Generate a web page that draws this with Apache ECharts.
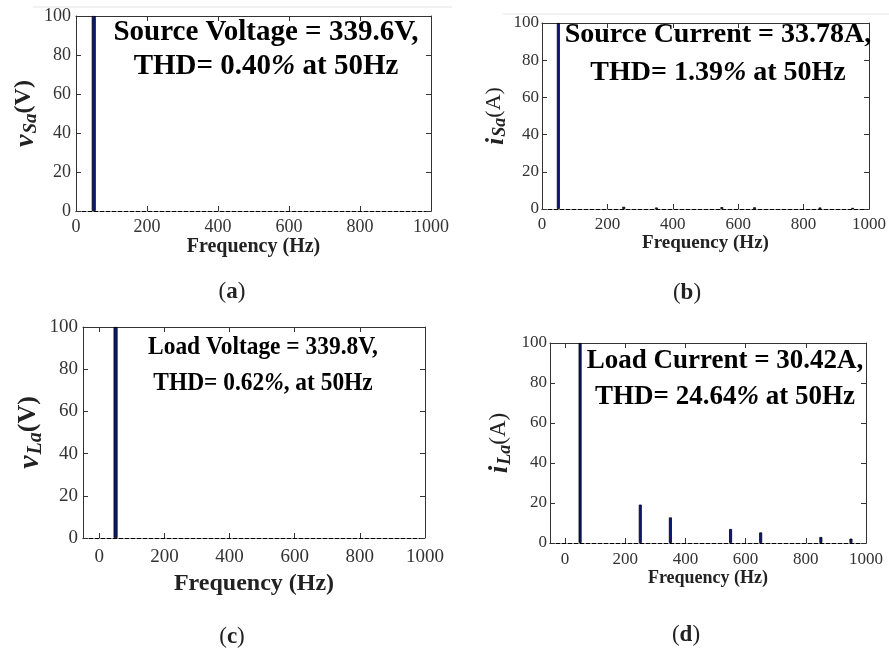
<!DOCTYPE html>
<html>
<head>
<meta charset="utf-8">
<script src="https://cdn.jsdelivr.net/npm/echarts@6/dist/echarts.min.js"></script>
<style>
  html, body { margin: 0; padding: 0; background: #fff; }
  #chart { width: 889px; height: 654px; }
</style>
</head>
<body>
<div id="chart"></div>
<script>
// 谐波频谱数据(幅值以基波为 100 归一)
var freqTicks = [0, 200, 400, 600, 800, 1000];

var srcVoltFreq = [50];
var srcVoltMag = [100];

var srcCurFreq = [50, 250, 350, 550, 650, 850, 950];
var srcCurMag = [100, 1.2, 0.8, 1.0, 0.9, 0.8, 0.6];

var loadVoltFreq = [50];
var loadVoltMag = [100];

var loadCurFreq = [50, 250, 350, 550, 650, 850, 950];
var loadCurMag = [100, 19.2, 12.8, 7.0, 5.3, 3.0, 2.2];

var titleLines = [
  ['Source Voltage = 339.6V,', 'THD= 0.40{p|%} at 50Hz'],
  ['Source Current = 33.78A,', 'THD= 1.39{p|%} at 50Hz'],
  ['Load Voltage = 339.8V,', 'THD= 0.62{p|%}, at 50Hz'],
  ['Load Current = 30.42A,', 'THD= 24.64{p|%} at 50Hz']
];
var yNames = [
  ['v', 'Sa', '(V)', true],
  ['i', 'Sa', '(A)', false],
  ['v', 'La', '(V)', true],
  ['i', 'La', '(A)', false]
];
var panelTags = ['a', 'b', 'c', 'd'];

(function () {
  'use strict';
  var SERIF = "'Liberation Serif', 'Times New Roman', serif";
  var BAR = '#0b1a78';
  var AXIS = '#333';

  function zip(xs, ys) {
    return xs.map(function (x, i) { return [x, ys[i]]; });
  }
  function plain(v) { return String(v); }

  // 每个子图的版式
  var panels = [
    { grid: { left: 76, top: 16, width: 355, height: 195 }, xmin: 0,
      data: zip(srcVoltFreq, srcVoltMag), barW: 4,
      lblSize: 18, lblMarginX: 7, lblMarginY: 5,
      xName: 20, xNameGap: 20, yNameGap: 34, ySize: 28,
      title: { cx: 266, y1: 33, y2: 67, size: 29, sx: 1 },
      tag: { x: 232, y: 292 } },
    { grid: { left: 542, top: 23, width: 328, height: 186 }, xmin: 0,
      data: zip(srcCurFreq, srcCurMag), barW: 3,
      lblSize: 17, lblMarginX: 7, lblMarginY: 3,
      xName: 19, xNameGap: 22, yNameGap: 27, ySize: 26,
      title: { cx: 718, y1: 35, y2: 73, size: 28, sx: 1 },
      tag: { x: 687, y: 293 } },
    { grid: { left: 83, top: 327, width: 342, height: 211 }, xmin: -50,
      data: zip(loadVoltFreq, loadVoltMag), barW: 4,
      lblSize: 19, lblMarginX: 10, lblMarginY: 5,
      xName: 24, xNameGap: 34, yNameGap: 28, ySize: 30,
      title: { cx: 263, y1: 347, y2: 383, size: 26, sx: 0.9 },
      tag: { x: 232, y: 637 } },
    { grid: { left: 550, top: 343, width: 316, height: 200 }, xmin: -50,
      data: zip(loadCurFreq, loadCurMag), barW: 3,
      lblSize: 17, lblMarginX: 8, lblMarginY: 3,
      xName: 18, xNameGap: 24, yNameGap: 36, ySize: 27,
      title: { cx: 725, y1: 361, y2: 397, size: 27, sx: 1 },
      tag: { x: 686, y: 635 } }
  ];

  var grids = [], xAxes = [], yAxes = [], series = [], graphics = [];

  panels.forEach(function (p, i) {
    grids.push(p.grid);
    var tickCfg = { inside: true, length: 5, lineStyle: { color: AXIS },
                    customValues: freqTicks };
    // 下方 x 轴
    xAxes.push({
      type: 'value', gridIndex: i, position: 'bottom', min: p.xmin, max: 1000,
      splitLine: { show: false },
      axisLine: { onZero: false, lineStyle: { color: '#000', width: 1.2, type: [4, 2] } },
      axisTick: tickCfg,
      axisLabel: { customValues: freqTicks, formatter: plain, margin: p.lblMarginX,
                   color: '#333', fontFamily: SERIF, fontSize: p.lblSize },
      name: 'Frequency (Hz)', nameLocation: 'middle', nameGap: p.xNameGap,
      nameTextStyle: { fontFamily: SERIF, fontWeight: 'bold', fontSize: p.xName,
                       color: '#222', verticalAlign: 'top' }
    });
    // 上方镜像轴
    xAxes.push({
      type: 'value', gridIndex: i, position: 'top', min: p.xmin, max: 1000,
      splitLine: { show: false },
      axisLine: { onZero: false, lineStyle: { color: AXIS } },
      axisTick: tickCfg, axisLabel: { show: false }
    });
    var yn = yNames[i];
    yAxes.push({
      type: 'value', gridIndex: i, position: 'left', min: 0, max: 100, interval: 20,
      splitLine: { show: false },
      axisLine: { show: true, onZero: false, lineStyle: { color: AXIS } },
      axisTick: { inside: true, length: 5, lineStyle: { color: AXIS } },
      axisLabel: { margin: p.lblMarginY, color: '#333', fontFamily: SERIF,
                   fontSize: p.lblSize },
      name: '{m|' + yn[0] + '}{s|' + yn[1] + '}{u|' + yn[2] + '}',
      nameLocation: 'middle', nameGap: p.yNameGap, nameRotate: 90,
      nameTextStyle: {
        rich: {
          m: { fontFamily: SERIF, fontStyle: 'italic', fontWeight: 'bold',
               fontSize: p.ySize, lineHeight: p.ySize, verticalAlign: 'top', color: '#222' },
          s: { fontFamily: SERIF, fontStyle: 'italic', fontWeight: 'bold',
               fontSize: Math.round(p.ySize * 0.68), lineHeight: Math.round(p.ySize * 0.68),
               padding: [Math.round(p.ySize * 0.6), 0, 0, 1], verticalAlign: 'bottom', color: '#222' },
          u: { fontFamily: SERIF, fontWeight: yn[3] ? 'bold' : 'normal',
               fontSize: Math.round(p.ySize * 0.86), lineHeight: p.ySize,
               verticalAlign: 'top', color: '#222' }
        }
      }
    });
    yAxes.push({
      type: 'value', gridIndex: i, position: 'right', min: 0, max: 100, interval: 20,
      splitLine: { show: false },
      axisLine: { show: true, onZero: false, lineStyle: { color: AXIS } },
      axisTick: { inside: true, length: 5, lineStyle: { color: AXIS } },
      axisLabel: { show: false }
    });
    series.push({
      type: 'bar', xAxisIndex: i * 2, yAxisIndex: i * 2, data: p.data,
      barWidth: p.barW, silent: true,
      itemStyle: { color: BAR, borderColor: '#000', borderWidth: 0.8 }
    });

    // 标注文字
    var t = p.title, lines = titleLines[i];
    [lines[0], lines[1]].forEach(function (txt, k) {
      graphics.push({
        type: 'text', x: t.cx, y: k ? t.y2 : t.y1, scaleX: t.sx, z: 10,
        style: {
          text: txt, fill: '#000', align: 'center', verticalAlign: 'middle',
          font: 'bold ' + t.size + 'px ' + SERIF,
          rich: { p: { fontFamily: SERIF, fontWeight: 'bold', fontStyle: 'italic',
                       fontSize: t.size } }
        }
      });
    });
    graphics.push({
      type: 'text', x: p.tag.x, y: p.tag.y,
      style: {
        text: '({b|' + panelTags[i] + '})', fill: '#222', align: 'center',
        verticalAlign: 'middle', font: '23px ' + SERIF,
        rich: { b: { fontFamily: SERIF, fontWeight: 'bold', fontSize: 23 } }
      }
    });
  });

  // 原图顶部的浅灰边线
  graphics.push({ type: 'line', shape: { x1: 33, y1: 7, x2: 452, y2: 7 },
                  style: { stroke: '#e4e4e4', lineWidth: 1 } });
  graphics.push({ type: 'line', shape: { x1: 503, y1: 14, x2: 889, y2: 14 },
                  style: { stroke: '#e4e4e4', lineWidth: 1 } });

  var chart = echarts.init(document.getElementById('chart'), null, { renderer: 'canvas' });
  chart.setOption({
    animation: false,
    backgroundColor: '#fff',
    grid: grids,
    xAxis: xAxes,
    yAxis: yAxes,
    series: series,
    graphic: graphics
  });
})();
</script>
</body>
</html>
